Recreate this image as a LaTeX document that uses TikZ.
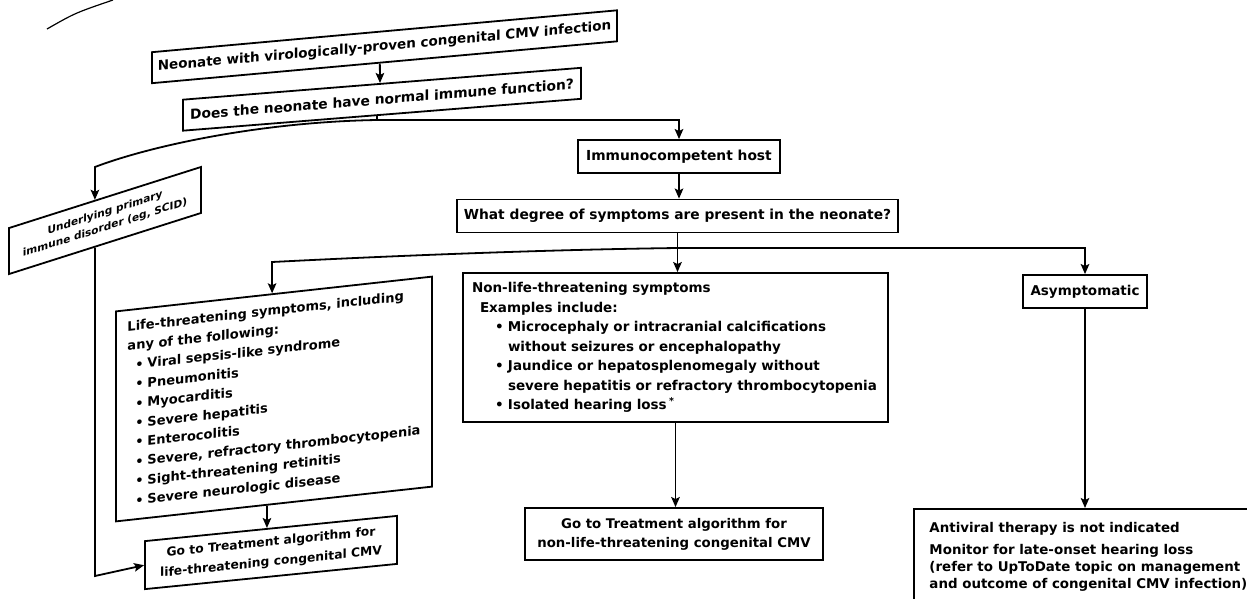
\documentclass[tikz,border=0pt]{standalone}
\usepackage{fontspec}
\setmainfont{DejaVu Sans}
\usetikzlibrary{arrows.meta,calc}
\begin{document}
\begin{tikzpicture}[x=1pt,y=-1pt,
  bx/.style={draw, line width=1.8pt, inner sep=0pt, align=center,
    font=\bfseries\fontsize{13.8}{18}\selectfont},
  ln/.style={line width=1.8pt},
  arr/.style={line width=1.8pt, -{Stealth[length=10pt,width=8.5pt,inset=2pt]}}]
\useasboundingbox (0,0) rectangle (1247,598);
\fill[white] (0,0) rectangle (1247,598);

% stray stroke at top left
\draw[line width=1.2pt] (47,29) .. controls (75,13) .. (113,0);

% slanted boxes (left part of the photo)
\begin{scope}[shift={(384.5,46.75)}, yslant=0.09]
\node[bx, transform shape, minimum width=465pt, minimum height=31pt,
  font=\bfseries\fontsize{13.5}{18}\selectfont] (b1) at (0,0)
  {Neonate with virologically-proven congenital CMV infection};
\end{scope}
\begin{scope}[shift={(382,99.25)}, yslant=0.08]
\node[bx, transform shape, minimum width=398pt, minimum height=31pt] (b2) at (0,0)
  {Does the neonate have normal immune function?};
\end{scope}
\begin{scope}[shift={(105,220.5)}, yslant=0.318]
\node[bx, transform shape, minimum width=192pt, minimum height=46pt,
  font=\bfseries\fontsize{10.5}{15}\selectfont] (ubox) at (0,0)
  {Underlying primary\\immune disorder (eg, SCID)};
\end{scope}
\begin{scope}[shift={(274,399)}, yslant=0.11]
\node[bx, transform shape, minimum width=316pt, minimum height=210pt,
  align=left,
  font=\bfseries\fontsize{13}{19.4}\selectfont] (life) at (0,0)
  {Life-threatening symptoms, including\\
   any of the following:\\
   \hspace*{8pt}\makebox[12pt][l]{•}Viral sepsis-like syndrome\\
   \hspace*{8pt}\makebox[12pt][l]{•}Pneumonitis\\
   \hspace*{8pt}\makebox[12pt][l]{•}Myocarditis\\
   \hspace*{8pt}\makebox[12pt][l]{•}Severe hepatitis\\
   \hspace*{8pt}\makebox[12pt][l]{•}Enterocolitis\\
   \hspace*{8pt}\makebox[12pt][l]{•}Severe, refractory thrombocytopenia\\
   \hspace*{8pt}\makebox[12pt][l]{•}Sight-threatening retinitis\\
   \hspace*{8pt}\makebox[12pt][l]{•}Severe neurologic disease};
\end{scope}
\begin{scope}[shift={(271,552.5)}, yslant=0.1]
\node[bx, transform shape, minimum width=252pt, minimum height=48pt,
  font=\bfseries\fontsize{12.3}{20}\selectfont] (golife) at (0,0)
  {Go to Treatment algorithm for\\life-threatening congenital CMV};
\end{scope}

% straight boxes
\node[bx, minimum width=202pt, minimum height=33pt] (imm) at (679,156.5)
  {Immunocompetent host};
\node[bx, minimum width=441pt, minimum height=33pt] (wd) at (677.5,216)
  {What degree of symptoms are present in the neonate?};
\node[bx, minimum width=425pt, minimum height=149pt, text width=407pt, align=left,
  font=\bfseries\fontsize{13.5}{19.5}\selectfont] (nl) at (675.5,347.5)
  {Non-life-threatening symptoms\\
   \hspace*{8pt}Examples include:\\
   \hspace*{23pt}\makebox[13pt][l]{•}Microcephaly or intracranial calcifications\\
   \hspace*{36pt}without seizures or encephalopathy\\
   \hspace*{23pt}\makebox[13pt][l]{•}Jaundice or hepatosplenomegaly without\\
   \hspace*{36pt}severe hepatitis or refractory thrombocytopenia\\
   \hspace*{23pt}\makebox[13pt][l]{•}Isolated hearing loss\,\textsuperscript{*}};
\node[bx, minimum width=298pt, minimum height=52pt,
  font=\bfseries\fontsize{13.3}{19}\selectfont] (gonl) at (674,534)
  {Go to Treatment algorithm for\\non-life-threatening congenital CMV};
\node[bx, minimum width=124pt, minimum height=33pt,
  font=\bfseries\fontsize{13.5}{18}\selectfont] (asym) at (1085,291.5)
  {Asymptomatic};
\node[bx, anchor=north west, minimum width=349pt, minimum height=95pt,
  align=left,
  font=\bfseries\fontsize{13.4}{17}\selectfont] (anti) at (913,508)
  {Antiviral therapy is not indicated\\[5pt]
   Monitor for late-onset hearing loss\\
   (refer to UpToDate topic on management\\
   and outcome of congenital CMV infection)};

% connectors
\coordinate (b1a) at ($(b1.south west)!0.49!(b1.south east)$);
\coordinate (b2a) at ($(b2.north west)!0.495!(b2.north east)$);
\draw[arr] (b1a) -- (b2a);

\coordinate (b2b) at ($(b2.south west)!0.487!(b2.south east)$);
\coordinate (j1) at (b2b |- 0,120);
\draw[ln] (b2b) -- (j1);
\draw[arr] (j1) -- (j1 -| imm.north) -- (imm.north);
\coordinate (ut) at ($(ubox.north west)!0.448!(ubox.north east)$);
\draw[arr] (j1) .. controls (260,122) and (150,146) .. (ut |- 0,167) -- (ut);

\coordinate (ub) at ($(ubox.south west)!0.448!(ubox.south east)$);
\draw[arr] (ub) -- (ub |- 0,576) -- (golife.west);

\draw[arr] (imm.south) -- (imm.south |- wd.north);

\coordinate (j2) at (wd.south |- 0,248);
\draw[arr] (wd.south) -- (wd.south |- nl.north);
\draw[arr] (j2) -- (j2 -| asym.north) -- (asym.north);
\coordinate (lt) at ($(life.north west)!0.494!(life.north east)$);
\draw[arr] (j2) .. controls (520,250) and (350,258) .. (lt |- 0,262) -- (lt);

\coordinate (lb) at ($(life.south west)!0.478!(life.south east)$);
\coordinate (gt) at ($(golife.north west)!0.484!(golife.north east)$);
\draw[arr] (lb) -- (gt);

\draw[arr] (nl.south) -- (nl.south |- gonl.north);
\draw[arr] (asym.south) -- (asym.south |- anti.north);
\end{tikzpicture}
\end{document}
